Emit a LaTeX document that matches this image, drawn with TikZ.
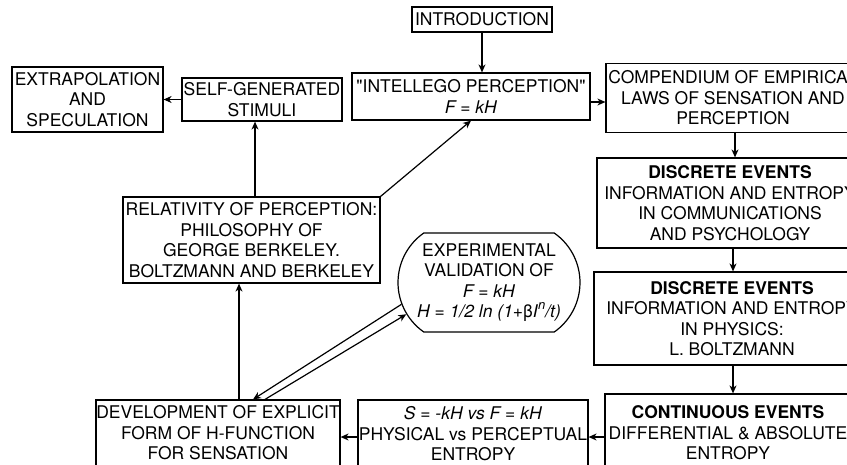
\documentclass[tikz,border=0pt]{standalone}
\usepackage{fontspec}
\setmainfont{TeX Gyre Heros}
\usetikzlibrary{arrows.meta,shapes.misc}

\begin{document}
\begin{tikzpicture}[x=1pt, y=-1pt, >={Stealth[length=8pt,width=7pt,inset=2.5pt]},
    box/.style={draw, line width=1.2pt, inner sep=0pt, align=center,
        font=\fontsize{17.5}{20.5}\selectfont},
    link/.style={->, line width=1.2pt}]
    % Frame of the picture
    \useasboundingbox (0,0) rectangle (847,464);
    \clip (0,0) rectangle (847,464);

    % Top row
    \node[box, minimum width=140pt, minimum height=25pt] (Intro) at (482,19.5) {INTRODUCTION};
    \node[box, minimum width=238pt, minimum height=47pt] (Intellego) at (471,96.5) {\textquotedbl INTELLEGO PERCEPTION\textquotedbl\\\textit{F = kH}};
    \node[box, minimum width=160pt, minimum height=43pt] (Stimuli) at (262,99.5) {SELF-GENERATED\\STIMULI};
    \node[box, minimum width=151pt, minimum height=65pt] (Extrap) at (87.5,99.5) {EXTRAPOLATION\\AND\\SPECULATION};

    % Right column
    \node[box, minimum width=254pt, minimum height=69pt] (Compendium) at (733,98) {COMPENDIUM OF EMPIRICAL\\LAWS OF SENSATION AND\\PERCEPTION};
    \node[box, minimum width=266pt, minimum height=90pt] (DiscreteCom) at (730,203) {\textbf{DISCRETE EVENTS}\\INFORMATION AND ENTROPY\\IN COMMUNICATIONS\\AND PSYCHOLOGY};
    \node[box, minimum width=276pt, minimum height=93pt] (DiscretePhys) at (732,318.5) {\textbf{DISCRETE EVENTS}\\INFORMATION AND ENTROPY\\IN PHYSICS:\\L. BOLTZMANN};
    \node[box, minimum width=246pt, minimum height=78pt] (Continuous) at (728,433) {\textbf{CONTINUOUS EVENTS}\\DIFFERENTIAL \& ABSOLUTE\\ENTROPY};

    % Bottom row and middle
    \node[box, minimum width=230pt, minimum height=68pt] (Entropy) at (473,434) {\textit{S = -kH vs F = kH}\\PHYSICAL vs PERCEPTUAL\\ENTROPY};
    \node[box, minimum width=244pt, minimum height=66pt] (HFunction) at (218,433) {DEVELOPMENT OF EXPLICIT\\FORM OF H-FUNCTION\\FOR SENSATION};
    \node[box, minimum width=257pt, minimum height=86pt] (Relativity) at (251.5,240) {RELATIVITY OF PERCEPTION:\\PHILOSOPHY OF\\GEORGE BERKELEY.\\BOLTZMANN AND BERKELEY};
    \node[box, rounded rectangle, rounded rectangle arc length=110, minimum width=182pt, minimum height=99pt] (Validation) at (489,282.5)
        {EXPERIMENTAL\\VALIDATION OF\\\textit{F = kH}\\\textit{H = 1/2 ln (1+}β\textit{I}\raisebox{0.9ex}{\fontsize{13}{13}\selectfont\textit{n}}\textit{/t)}};

    % Flow down the right side
    \draw[link] (Intro.south) -- (Intro.south |- Intellego.north);
    \draw[link] (Intellego.east |- 0,102) -- (Compendium.west |- 0,102);
    \draw[link] ([xshift=2pt]Compendium.south) -- ([xshift=2pt]Compendium.south |- DiscreteCom.north);
    \draw[link] ([xshift=3pt]DiscreteCom.south) -- ([xshift=3pt]DiscreteCom.south |- DiscretePhys.north);
    \draw[link] ([xshift=1pt]DiscretePhys.south) -- ([xshift=1pt]DiscretePhys.south |- Continuous.north);

    % Flow back along the bottom
    \draw[link] (Continuous.west |- 0,437) -- (Entropy.east |- 0,437);
    \draw[link] (Entropy.west |- 0,437) -- (HFunction.east |- 0,437);

    % Up the left side
    \draw[link] ([xshift=21pt]HFunction.north) -- ([xshift=21pt]HFunction.north |- Relativity.south);
    \draw[link] ([xshift=3.5pt]Relativity.north) -- ([xshift=3.5pt]Relativity.north |- Stimuli.south);
    \draw[link] (Stimuli.west) -- (Extrap.east);
    \draw[link] (Relativity.north east) -- (Intellego.south);

    % Two-way link to the validation
    \draw[link] (Validation.194) -- ([xshift=35pt]HFunction.north);
    \draw[link] ([xshift=47pt]HFunction.north) -- (Validation.201);
\end{tikzpicture}
\end{document}
